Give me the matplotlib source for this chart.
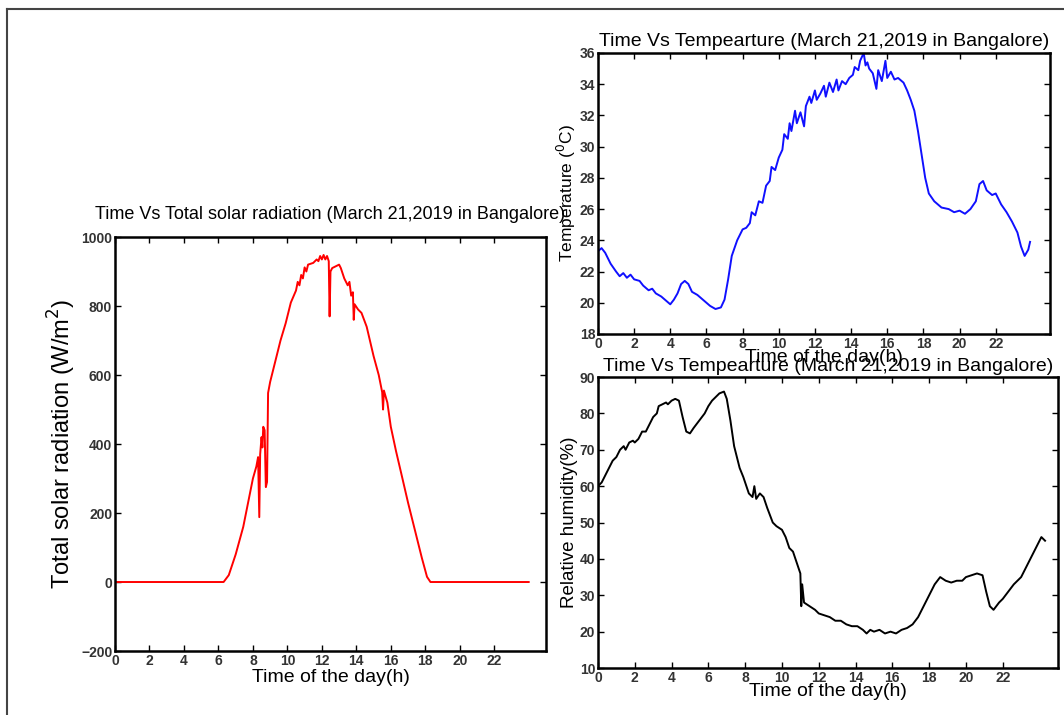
import matplotlib
matplotlib.use('Agg')
from matplotlib import pyplot as plt
from matplotlib.lines import Line2D

plt.rcParams['font.family'] = ['Liberation Sans', 'DejaVu Sans']

# solar radiation (W/m^2) vs hour
solar_t = [0, 6.3, 6.6, 7.0, 7.44, 8.0, 8.2, 8.3, 8.37, 8.42, 8.5, 8.55, 8.6, 8.68, 8.75, 8.82, 8.88,
           9.0, 9.3, 9.6, 9.9, 10.2, 10.5, 10.6, 10.7, 10.8, 10.9, 11.0, 11.1, 11.2, 11.5, 11.7,
           11.8, 11.9, 12.0, 12.1, 12.2, 12.3, 12.4, 12.45, 12.5, 12.6, 12.8, 13.0, 13.1, 13.3,
           13.5, 13.6, 13.7, 13.8, 13.85, 13.9, 14.1, 14.3, 14.6, 15.0, 15.3, 15.5, 15.55, 15.6,
           15.8, 16.0, 16.3, 16.6, 17.0, 17.4, 17.8, 18.1, 18.3, 24.0]
solar_r = [0, 0, 20, 80, 160, 300, 335, 362, 188, 370, 420, 390, 450, 440, 275, 290, 548,
           580, 640, 700, 750, 810, 845, 870, 860, 890, 880, 912, 900, 920, 925, 935,
           930, 945, 935, 948, 935, 945, 930, 770, 900, 910, 915, 920, 910, 880,
           860, 870, 830, 840, 760, 805, 790, 780, 740, 655, 600, 550, 500, 555,
           520, 450, 380, 316, 230, 150, 70, 15, 0, 0]

# temperature (C) vs hour
temp_t = [0, 0.2, 0.4, 0.7, 1.0, 1.2, 1.4, 1.6, 1.8, 2.0, 2.3, 2.5, 2.8, 3.0, 3.2, 3.5, 3.8, 4.0,
          4.2, 4.4, 4.6, 4.8, 5.0, 5.2, 5.5, 5.8, 6.0, 6.2, 6.5, 6.8, 7.0, 7.2, 7.4, 7.7, 8.0,
          8.2, 8.4, 8.5, 8.7, 8.9, 9.1, 9.3, 9.5, 9.6, 9.8, 10.0, 10.2, 10.3, 10.5, 10.6, 10.7,
          10.9, 11.0, 11.2, 11.4, 11.5, 11.7, 11.8, 12.0, 12.1, 12.3, 12.5, 12.6, 12.8, 13.0,
          13.2, 13.3, 13.5, 13.7, 13.9, 14.1, 14.2, 14.4, 14.5, 14.7, 14.8, 14.9, 15.0, 15.2,
          15.4, 15.5, 15.7, 15.9, 16.0, 16.2, 16.4, 16.6, 16.9, 17.1, 17.3, 17.5, 17.7, 17.9,
          18.1, 18.3, 18.6, 19.0, 19.4, 19.7, 20.0, 20.3, 20.6, 20.9, 21.1, 21.3, 21.5, 21.8,
          22.0, 22.3, 22.6, 22.9, 23.2, 23.4, 23.6, 23.8, 23.9]
temp_c = [23.3, 23.5, 23.2, 22.5, 22.0, 21.7, 21.9, 21.6, 21.8, 21.5, 21.4, 21.1, 20.8, 20.9, 20.6,
          20.4, 20.1, 19.9, 20.2, 20.6, 21.2, 21.4, 21.2, 20.7, 20.5, 20.2, 20.0, 19.8, 19.6,
          19.7, 20.2, 21.5, 23.0, 24.0, 24.7, 24.8, 25.1, 25.8, 25.6, 26.5, 26.4, 27.5, 27.8,
          28.7, 28.5, 29.3, 29.8, 30.8, 30.5, 31.5, 31.0, 32.3, 31.5, 32.2, 31.3, 32.6, 33.2,
          32.8, 33.6, 33.0, 33.4, 33.9, 33.2, 34.1, 33.5, 34.3, 33.6, 34.2, 34.0, 34.4, 34.6,
          35.1, 34.9, 35.5, 36.0, 35.2, 35.4, 35.0, 34.7, 33.7, 34.9, 34.2, 35.5, 34.4, 34.8,
          34.3, 34.4, 34.1, 33.6, 33.0, 32.3, 31.0, 29.5, 28.0, 27.0, 26.5, 26.1, 26.0, 25.8,
          25.9, 25.7, 26.0, 26.5, 27.6, 27.8, 27.2, 26.9, 27.0, 26.3, 25.8, 25.2, 24.5, 23.6,
          23.0, 23.4, 23.9]

# relative humidity (%) vs hour
hum_t = [0, 0.2, 0.5, 0.8, 1.0, 1.2, 1.4, 1.5, 1.7, 1.9, 2.0, 2.2, 2.4, 2.6, 2.8, 3.0, 3.2, 3.3,
         3.5, 3.7, 3.8, 4.0, 4.2, 4.4, 4.6, 4.8, 5.0, 5.2, 5.5, 5.8, 6.0, 6.2, 6.4, 6.6, 6.85,
         7.0, 7.2, 7.4, 7.7, 7.9, 8.2, 8.4, 8.5, 8.6, 8.8, 9.0, 9.2, 9.5, 9.7, 10.0, 10.2, 10.4,
         10.6, 10.8, 11.0, 11.05, 11.1, 11.2, 11.5, 11.8, 12.0, 12.3, 12.6, 12.9, 13.2, 13.5,
         13.8, 14.1, 14.4, 14.6, 14.8, 15.0, 15.3, 15.6, 15.9, 16.2, 16.5, 16.8, 17.1, 17.4,
         17.7, 18.0, 18.3, 18.6, 18.9, 19.2, 19.5, 19.8, 20.0, 20.3, 20.6, 20.9, 21.1, 21.3,
         21.5, 21.8, 22.0, 22.3, 22.6, 23.0, 23.3, 23.6, 23.9, 24.1, 24.3]
hum_p = [60, 61, 64, 67, 68, 70, 71, 70, 72, 72.5, 72, 73, 75, 75, 77, 79, 80, 82,
         82.5, 83, 82.5, 83.5, 84, 83.5, 79, 75, 74.5, 76, 78, 80, 82, 83.5, 84.5, 85.5, 86,
         84, 78, 71, 65, 62.5, 58, 57, 60, 56.5, 58, 57, 54, 50, 49, 48, 46, 43,
         42, 39, 36, 27, 33, 28, 27, 26, 25, 24.5, 24, 23, 23, 22,
         21.5, 21.5, 20.5, 19.5, 20.5, 20, 20.5, 19.5, 20, 19.5, 20.5, 21, 22, 24,
         27, 30, 33, 35, 34, 33.5, 34, 34, 35, 35.5, 36, 35.5, 31, 27,
         26, 28, 29, 31, 33, 35, 38, 41, 44, 46, 45]

xticks = list(range(0, 24, 2))
solar_yticks = list(range(-200, 1001, 200))
temp_yticks = list(range(18, 37, 2))
hum_yticks = list(range(10, 91, 10))


def style(ax, yticks, ylim):
    ax.set_xlim(0, 25)
    ax.set_ylim(*ylim)
    ax.set_xticks(xticks)
    ax.set_yticks(yticks)
    ax.tick_params(direction='in', length=4, width=1, top=True, right=True,
                   labelsize=10, labelcolor='#333333', pad=2)
    for lab in ax.get_xticklabels() + ax.get_yticklabels():
        lab.set_fontweight('bold')
    for sp in ax.spines.values():
        sp.set_linewidth(1.8)


fig = plt.figure(figsize=(10.64, 7.15), dpi=100)

ax1 = fig.add_axes([0.1081, 0.0895, 0.405, 0.579])
ax1.plot(solar_t, solar_r, color='red', linewidth=1.4)
style(ax1, solar_yticks, (-200, 1000))
ax1.set_title('Time Vs Total solar radiation (March 21,2019 in Bangalore)', fontsize=13, pad=13)
ax1.set_xlabel('Time of the day(h)', fontsize=14, labelpad=1)
ax1.set_ylabel('Total solar radiation (W/m$^2$)', fontsize=17, labelpad=2)

ax2 = fig.add_axes([0.562, 0.5329, 0.4248, 0.393])
ax2.plot(temp_t, temp_c, color='#1010ff', linewidth=1.4)
style(ax2, temp_yticks, (18, 36))
ax2.set_title('Time Vs Tempearture (March 21,2019 in Bangalore)', fontsize=14, pad=5)
ax2.set_xlabel('Time of the day(h)', fontsize=14, labelpad=-1)
ax2.set_ylabel('Temperature ($^0$C)', fontsize=12.5, labelpad=1)

ax3 = fig.add_axes([0.562, 0.0657, 0.4323, 0.407])
ax3.plot(hum_t, hum_p, color='black', linewidth=1.4)
style(ax3, hum_yticks, (10, 90))
ax3.set_title('Time Vs Tempearture (March 21,2019 in Bangalore)', fontsize=14, pad=4)
ax3.set_xlabel('Time of the day(h)', fontsize=14, labelpad=-1)
ax3.set_ylabel('Relative humidity(%)', fontsize=13.5, labelpad=1)

# page frame (top and left edges)
fig.add_artist(Line2D([7 / 1064, 1], [1 - 9 / 715, 1 - 9 / 715], color='#444444', linewidth=1.5))
fig.add_artist(Line2D([7 / 1064, 7 / 1064], [0, 1 - 9 / 715], color='#444444', linewidth=1.5))

plt.savefig('out.png')
plt.close()
